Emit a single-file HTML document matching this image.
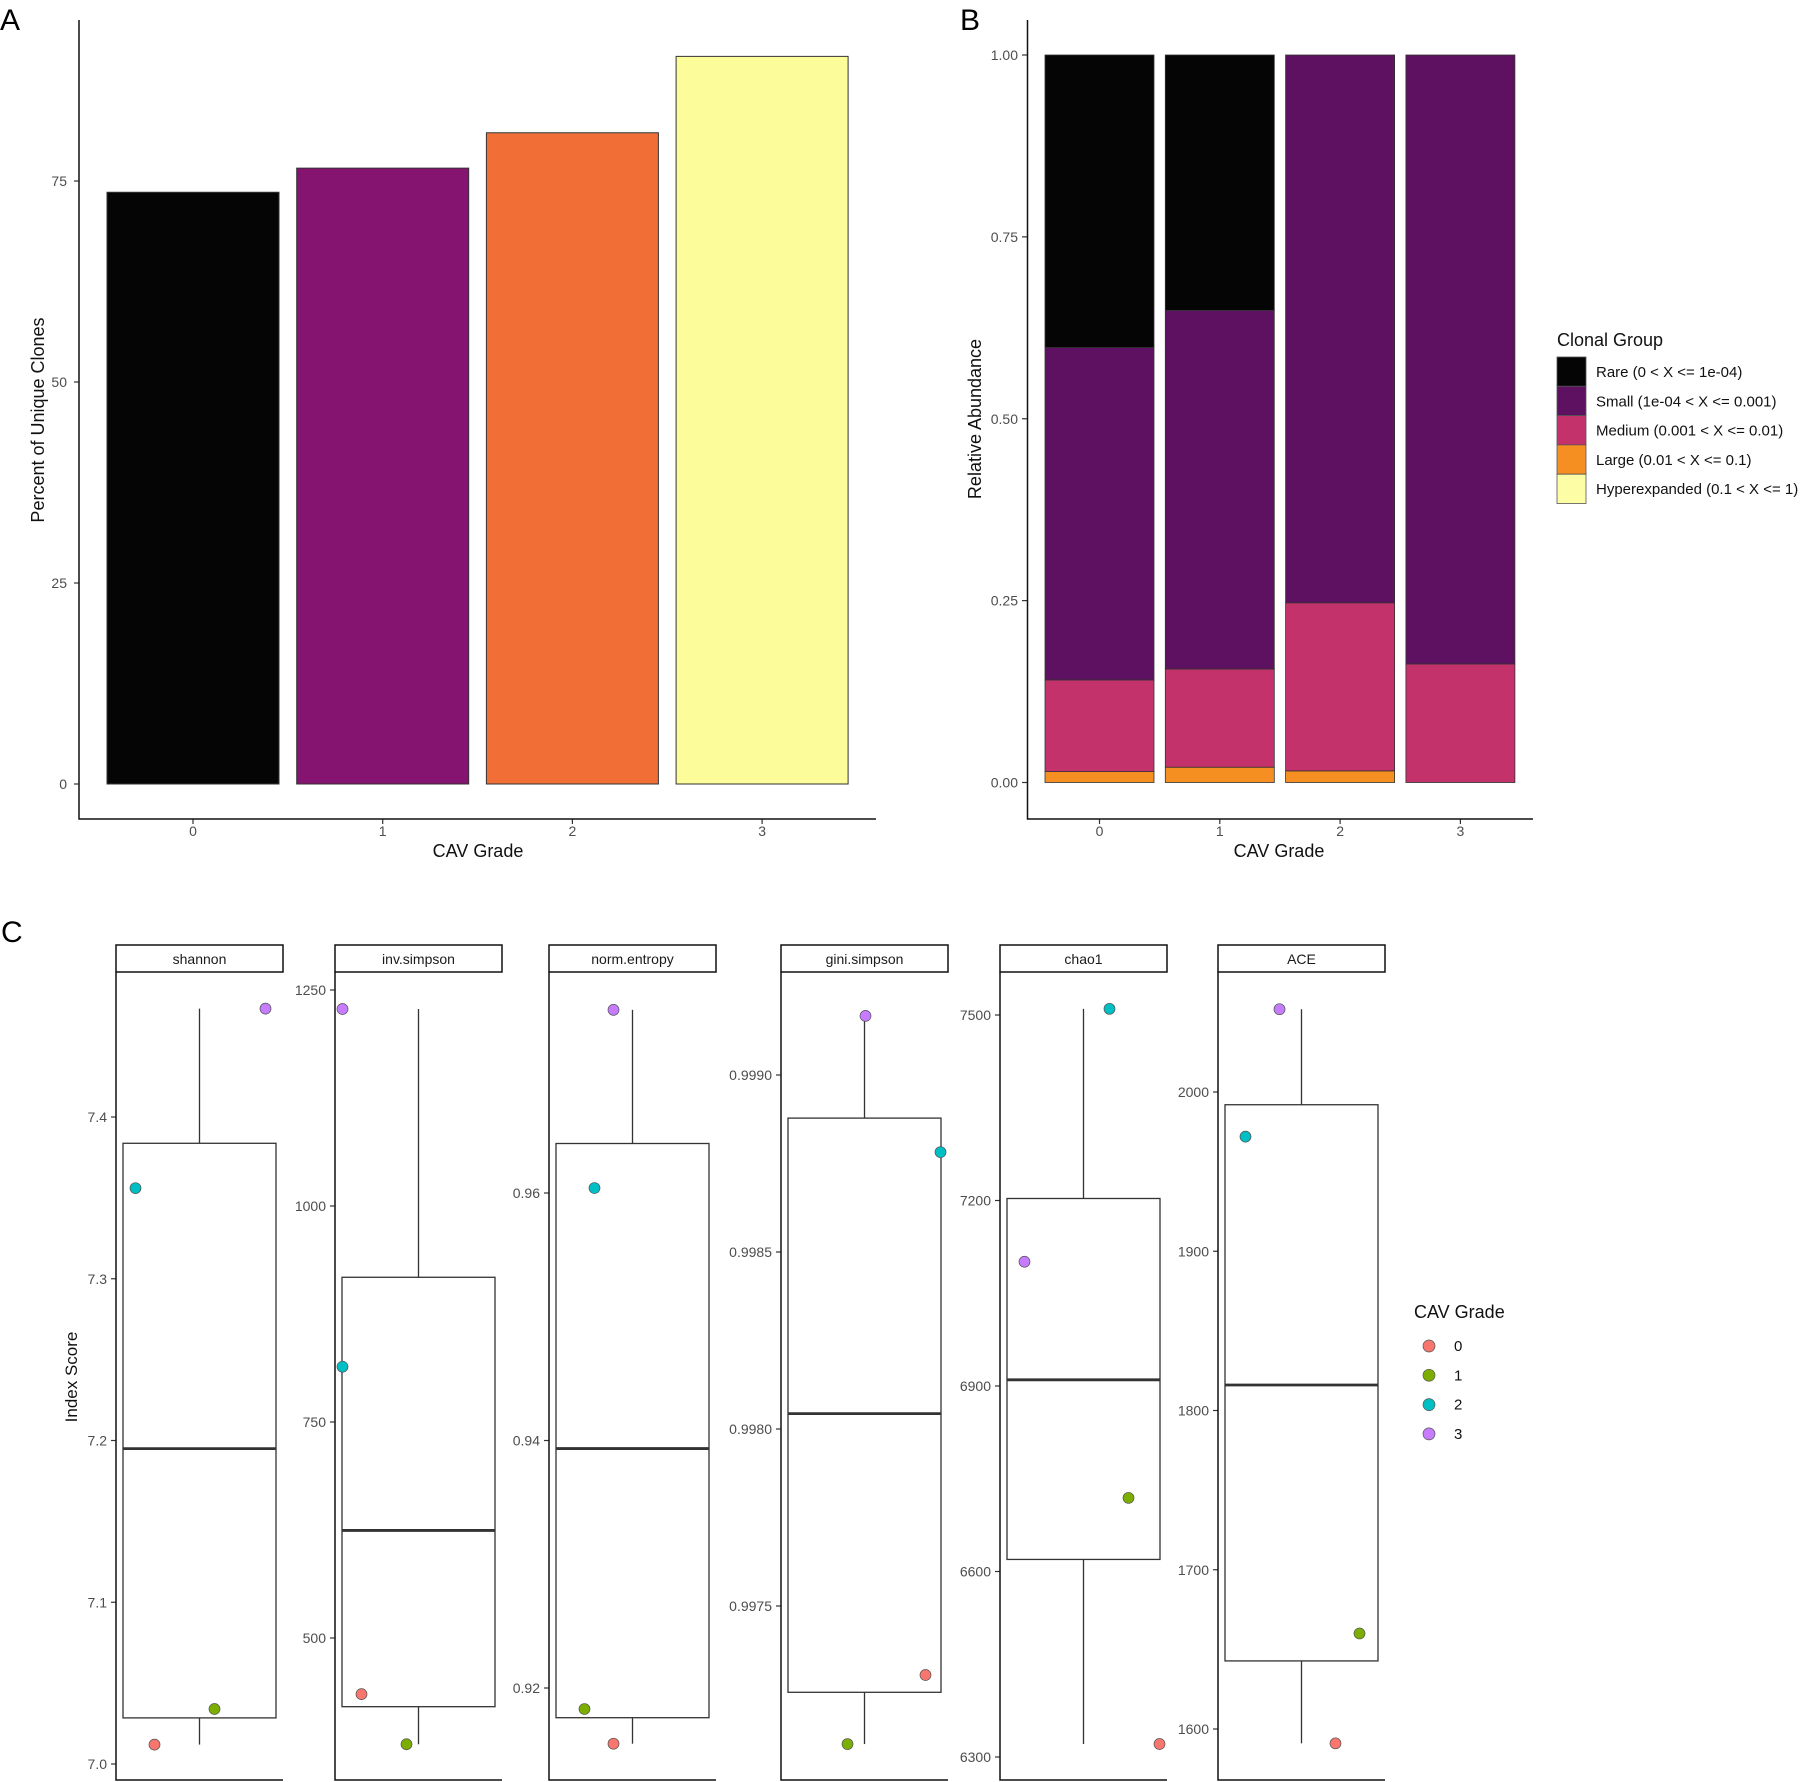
<!DOCTYPE html>
<html><head><meta charset="utf-8"><style>
html,body{margin:0;padding:0;background:#fff;}
svg{display:block;font-family:"Liberation Sans",Arial,sans-serif;}
</style></head><body>
<svg id="fig" width="1800" height="1782" viewBox="0 0 1800 1782" xmlns="http://www.w3.org/2000/svg">
<g id="gA"></g>
<g id="gB"></g>
<g id="gC"></g>
</svg>
<script>
// ---- Panel A data ----
const aCategories = ["0","1","2","3"];
const aValues = [73.6, 76.6, 81.0, 90.5];
const aColors = ["#050505","#851370","#F26E37","#FCFD9A"];
const aTicks = [0,25,50,75];
// ---- Panel B data ----
const bCategories = ["0","1","2","3"];
const bLarge = [0.015, 0.021, 0.016, 0.0];
const bMedium = [0.126, 0.135, 0.231, 0.163];
const bSmall = [0.457, 0.493, 0.753, 0.837];
const bRare = [0.402, 0.351, 0.0, 0.0];
const bTicks = [0,0.25,0.5,0.75,1.0];
const bTickLabels = ["0.00","0.25","0.50","0.75","1.00"];
const bGroups = ["Rare (0 < X <= 1e-04)","Small (1e-04 < X <= 0.001)","Medium (0.001 < X <= 0.01)","Large (0.01 < X <= 0.1)","Hyperexpanded (0.1 < X <= 1)"];
const bColors = ["#050505","#5E1160","#C4326B","#F58F21","#FDFDA5"];
// ---- Panel C data ----
const cIndices = ["shannon","inv.simpson","norm.entropy","gini.simpson","chao1","ACE"];
const cGrade0 = [7.012, 435, 0.9155, 0.997305, 6321, 1591];
const cGrade1 = [7.034, 377, 0.9183, 0.99711, 6719, 1660];
const cGrade2 = [7.356, 814, 0.9604, 0.998782, 7510, 1972];
const cGrade3 = [7.467, 1228, 0.9748, 0.999167, 7101, 2052];
const cTicks = [[7.0,7.1,7.2,7.3,7.4],[500,750,1000,1250],[0.92,0.94,0.96],[0.9975,0.998,0.9985,0.999],[6300,6600,6900,7200,7500],[1600,1700,1800,1900,2000]];
const cTickLabels = [["7.0","7.1","7.2","7.3","7.4"],["500","750","1000","1250"],["0.92","0.94","0.96"],["0.9975","0.9980","0.9985","0.9990"],["6300","6600","6900","7200","7500"],["1600","1700","1800","1900","2000"]];
const cGrades = ["0","1","2","3"];
const cColors = ["#F8766D","#7CAE00","#00BFC4","#C77CFF"];

const NS="http://www.w3.org/2000/svg";
function mk(parent,tag,attrs,text){const e=document.createElementNS(NS,tag);for(const k in attrs)e.setAttribute(k,attrs[k]);if(text!==undefined)e.textContent=text;parent.appendChild(e);return e;}

// ===== Panel A =====
(function(){
const g=document.getElementById('gA');
const yA=v=>784-v*8.04;
const xA=i=>193+i*189.7;
let t=mk(g,'text',{x:0,y:30,'font-size':30},'A');


aValues.forEach((v,i)=>{
 const r=mk(g,'rect',{x:xA(i)-86,y:yA(v),width:172,height:yA(0)-yA(v),fill:aColors[i],stroke:'#333','stroke-width':1});
 
 
 const l=mk(g,'text',{x:xA(i),y:836,'font-size':14,fill:'#4d4d4d','text-anchor':'middle'},aCategories[i]);
 
 
 mk(g,'line',{x1:xA(i),x2:xA(i),y1:819,y2:824,stroke:'#333','stroke-width':1.2});
});
aTicks.forEach(v=>{
 mk(g,'line',{x1:74,x2:79,y1:yA(v),y2:yA(v),stroke:'#333','stroke-width':1.2});
 const l=mk(g,'text',{x:67,y:yA(v)+5,'font-size':14,fill:'#4d4d4d','text-anchor':'end'},String(v));
 
 
});
mk(g,'path',{d:'M79,20 V819 H876',fill:'none',stroke:'#111','stroke-width':1.5});
t=mk(g,'text',{x:478,y:857,'font-size':18,fill:'#111','text-anchor':'middle'},'CAV Grade');


t=mk(g,'text',{x:0,y:0,'font-size':18,fill:'#111','text-anchor':'middle',transform:'translate(44,420) rotate(-90)'},'Percent of Unique Clones');


})();

// ===== Panel B =====
(function(){
const g=document.getElementById('gB');
const yB=v=>782.5-v*727.5;
const xB=i=>1099.5+i*120.3;
let t=mk(g,'text',{x:960,y:30,'font-size':30},'B');


const series=[bLarge,bMedium,bSmall,bRare];
const sColors=[bColors[3],bColors[2],bColors[1],bColors[0]];
const sNames=['large','medium','small','rare'];
bCategories.forEach((c,i)=>{
 let cum=0;
 series.forEach((s,k)=>{
  const v=s[i];
  if(v>0){
   const r=mk(g,'rect',{x:xB(i)-54.5,y:yB(cum+v),width:109,height:yB(cum)-yB(cum+v),fill:sColors[k],stroke:'#333','stroke-width':0.8});
   
   
  }
  cum+=v;
 });
 mk(g,'line',{x1:xB(i),x2:xB(i),y1:819,y2:824,stroke:'#333','stroke-width':1.2});
 const l=mk(g,'text',{x:xB(i),y:836,'font-size':14,fill:'#4d4d4d','text-anchor':'middle'},c);
 
 
});
bTicks.forEach((v,k)=>{
 mk(g,'line',{x1:1022,x2:1027.5,y1:yB(v),y2:yB(v),stroke:'#333','stroke-width':1.2});
 const l=mk(g,'text',{x:1018,y:yB(v)+5,'font-size':14,fill:'#4d4d4d','text-anchor':'end'},bTickLabels[k]);
 
 
});
mk(g,'path',{d:'M1027.5,20 V819 H1533',fill:'none',stroke:'#111','stroke-width':1.5});
t=mk(g,'text',{x:1279,y:857,'font-size':18,fill:'#111','text-anchor':'middle'},'CAV Grade');


t=mk(g,'text',{x:0,y:0,'font-size':18,fill:'#111','text-anchor':'middle',transform:'translate(981,419) rotate(-90)'},'Relative Abundance');


// legend
t=mk(g,'text',{x:1557,y:346,'font-size':18,fill:'#111'},'Clonal Group');


bGroups.forEach((name,k)=>{
 const y=357+k*29.3;
 const e=mk(g,'g',{});
 
 
 mk(e,'rect',{x:1557,y:y,width:29,height:29.3,fill:bColors[k],stroke:'#555','stroke-width':0.8});
 mk(e,'text',{x:1596,y:y+20,'font-size':15,fill:'#111'},name);
});
})();

// ===== Panel C =====
(function(){
const g=document.getElementById('gC');
let t=mk(g,'text',{x:1,y:942,'font-size':30},'C');


const panelL=[116,335,549,781,1000,1218];
const W=167;
const anchors=[[7.0,1764,7.4,1117],[500,1638,1250,990],[0.92,1688,0.96,1193],[0.9975,1606,0.999,1075],[6300,1757,7500,1015],[1600,1729,2000,1092]];
const jitter=[[-45,15,-64,66],[-57,-12,-76,-76],[-19,-48,-38,-19],[61,-17,76,1],[76,45,26,-59],[34,58,-56,-22]];
function q(s,p){const h=(s.length-1)*p,lo=Math.floor(h),hi=Math.ceil(h);return s[lo]+(s[hi]-s[lo])*(h-lo);}
cIndices.forEach((name,pi)=>{
 const pg=mk(g,'g',{});
 
 
 const L=panelL[pi],cx=L+W/2;
 const a=anchors[pi];
 const y=v=>a[1]+(v-a[0])*(a[3]-a[1])/(a[2]-a[0]);
 const sr=mk(pg,'rect',{x:L,y:945,width:W,height:27,fill:'#fff',stroke:'#111','stroke-width':1.5});
 
 
 mk(pg,'text',{x:cx,y:964,'font-size':14,fill:'#1a1a1a','text-anchor':'middle'},name);
 const vals=[cGrade0[pi],cGrade1[pi],cGrade2[pi],cGrade3[pi]];
 const s=vals.slice().sort((m,n)=>m-n);
 const q1=q(s,0.25),md=q(s,0.5),q3=q(s,0.75);
 mk(pg,'line',{x1:cx,x2:cx,y1:y(s[3]),y2:y(q3),stroke:'#333','stroke-width':1.3});
 mk(pg,'line',{x1:cx,x2:cx,y1:y(q1),y2:y(s[0]),stroke:'#333','stroke-width':1.3});
 const bx=mk(pg,'rect',{x:L+7,y:y(q3),width:W-14,height:y(q1)-y(q3),fill:'#fff',stroke:'#333','stroke-width':1.3});
 
 
 mk(pg,'line',{x1:L+7,x2:L+W-7,y1:y(md),y2:y(md),stroke:'#333','stroke-width':2.8});
 vals.forEach((v,k)=>{
  const c=mk(pg,'circle',{cx:cx+jitter[pi][k],cy:y(v),r:5.5,fill:cColors[k],stroke:'#555','stroke-width':0.7});
  
  
 });
 cTicks[pi].forEach((v,k)=>{
  mk(pg,'line',{x1:L-5,x2:L,y1:y(v),y2:y(v),stroke:'#333','stroke-width':1.2});
  const l=mk(pg,'text',{x:L-9,y:y(v)+5,'font-size':14,fill:'#4d4d4d','text-anchor':'end'},cTickLabels[pi][k]);
  
  
 });
 mk(pg,'path',{d:`M${L},972 V1780 H${L+W}`,fill:'none',stroke:'#111','stroke-width':1.5});
});
t=mk(g,'text',{x:0,y:0,'font-size':17,fill:'#111','text-anchor':'middle',transform:'translate(77,1377) rotate(-90)'},'Index Score');


t=mk(g,'text',{x:1414,y:1318,'font-size':18,fill:'#111'},'CAV Grade');


cGrades.forEach((gr,k)=>{
 const yy=1346+k*29.3;
 const e=mk(g,'g',{});
 
 
 mk(e,'circle',{cx:1429,cy:yy,r:6,fill:cColors[k],stroke:'#555','stroke-width':0.7});
 mk(e,'text',{x:1454,y:yy+5,'font-size':15,fill:'#111'},gr);
});
})();
</script>
</body></html>
